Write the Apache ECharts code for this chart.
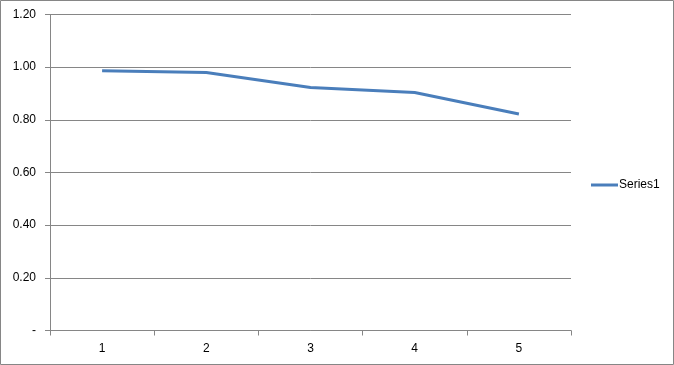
<!DOCTYPE html>
<html><head><meta charset="utf-8">
<script src="https://cdn.jsdelivr.net/npm/echarts@6/dist/echarts.min.js"></script>
<style>html,body{margin:0;padding:0;background:#fff}#c{width:674px;height:365px}</style>
</head><body><div id="c"></div>
<script>
const categories = ['1', '2', '3', '4', '5'];
const series1 = [0.986, 0.980, 0.923, 0.904, 0.822];
const seriesName = 'Series1';

const chart = echarts.init(document.getElementById('c'), null, {renderer: 'canvas'});
const gray = '#868686';
const font = 'Liberation Sans, Arial, sans-serif';
chart.setOption({
  animation: false,
  graphic: [{type: 'rect', shape: {x: 0.5, y: 0.5, width: 673, height: 364}, style: {fill: 'none', stroke: gray, lineWidth: 1}, silent: true}],
  grid: {left: 50, right: 103, top: 14.5, bottom: 34.5, containLabel: false},
  legend: {orient: 'vertical', left: 586, top: 174, itemWidth: 27, itemHeight: 3, itemGap: 4,
    icon: 'rect', textStyle: {fontFamily: font, fontSize: 12, color: '#000', padding: [0, 0, 0, -4]},
    data: [{name: seriesName}]},
  xAxis: {type: 'category', data: categories, boundaryGap: true,
    axisLine: {lineStyle: {color: gray, width: 1}},
    axisTick: {show: true, alignWithLabel: false, length: 5, lineStyle: {color: gray}},
    axisLabel: {fontFamily: font, fontSize: 12, color: '#000', margin: 12},
    splitLine: {show: false}},
  yAxis: {type: 'value', min: 0, max: 1.2, interval: 0.2,
    axisLine: {show: true, lineStyle: {color: gray, width: 1}},
    axisTick: {show: true, length: 5, lineStyle: {color: gray}},
    axisLabel: {fontFamily: font, fontSize: 12, color: '#000', margin: 14,
      formatter: v => v === 0 ? '-' : v.toFixed(2)},
    splitLine: {show: true, lineStyle: {color: gray, width: 1}}},
  series: [{name: seriesName, type: 'line', data: series1, showSymbol: false, symbol: 'none',
    lineStyle: {color: '#4a7ebb', width: 3}, itemStyle: {color: '#4a7ebb'}}]
});
</script></body></html>
